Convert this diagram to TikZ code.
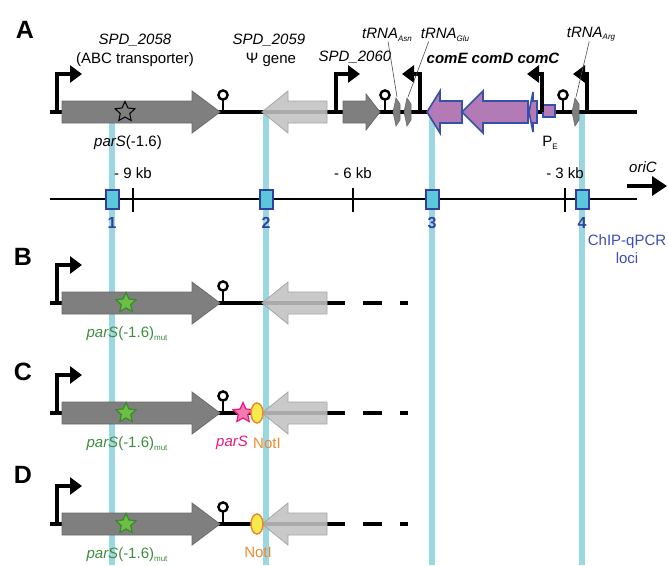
\documentclass[tikz,border=0pt]{standalone}
\usepackage{fontspec}
\setmainfont{Liberation Sans}
\usepackage{xcolor}
\usepackage{tikz}
\usetikzlibrary{arrows.meta,shapes.geometric}
\definecolor{locc}{HTML}{9BD7E1}
\definecolor{locf}{HTML}{5CC6DA}
\definecolor{locd}{HTML}{2E40A0}
\definecolor{chipc}{HTML}{3D4DB5}
\definecolor{purpf}{HTML}{B37AB5}
\definecolor{purpd}{HTML}{3450A8}
\definecolor{grayf}{HTML}{7F7F7F}
\definecolor{grayd}{HTML}{6B6B6B}
\definecolor{lgrayf}{HTML}{C2C2C2}
\definecolor{lgrayd}{HTML}{A5A5A5}
\definecolor{mutc}{HTML}{3E8E3E}
\definecolor{gstarf}{HTML}{6BBF45}
\definecolor{gstard}{HTML}{3A8A2A}
\definecolor{pinkc}{HTML}{E8197A}
\definecolor{pstarf}{HTML}{F27BB3}
\definecolor{notc}{HTML}{F0892A}
\definecolor{notf}{HTML}{F6EA4F}
\tikzset{
  bb/.style={line width=4.5pt,black},
  locl/.style={line width=6pt,locc},
  axl/.style={line width=1.8pt,black},
  prm/.style={line width=3.5pt,black,-{Triangle[length=12pt,width=17pt]}},
  trm/.style={line width=2.4pt,black},
  grayg/.style={fill=grayf,draw=grayd,line width=0.8pt},
  pseudog/.style={fill=lgrayf,fill opacity=0.88,draw=lgrayd,line width=0.8pt},
  comg/.style={fill=purpf,draw=purpd,line width=1.6pt},
  trn/.style={fill=grayf,draw=grayd,line width=0.6pt},
  lbl/.style={font=\fontsize{15}{18}\selectfont,inner sep=0pt},
  panel/.style={font=\fontsize{25}{25}\selectfont\bfseries,inner sep=0pt},
  locbox/.style={draw=locd,fill=locf,line width=2pt,minimum width=13pt,minimum height=19pt,inner sep=0pt},
  locnum/.style={font=\fontsize{16}{16}\selectfont\bfseries,text=locd,inner sep=0pt},
  leader/.style={line width=0.6pt,black!70},
  startype/.style={star,star points=5,star point ratio=2.1,minimum size=21pt,inner sep=0pt},
  ostar/.style={startype,draw=black,line width=1pt},
  gstar/.style={startype,fill=gstarf,draw=gstard,line width=1.2pt},
  pstar/.style={startype,fill=pstarf,draw=pinkc,line width=1.2pt},
  notel/.style={ellipse,minimum width=12pt,minimum height=20pt,inner sep=0pt,fill=notf,draw=notc,line width=1.5pt}
}
\newcommand{\gene}[6]{\draw[#1] (#2,#5-11) -- (#3,#5-11) -- (#3,#5-#6) -- (#4,#5) -- (#3,#5+#6) -- (#3,#5+11) -- (#2,#5+11) -- cycle;}
\newcommand{\prom}[3]{\draw[prm] (#1,#2) -- (#1,#2-38) -- ++(#3,0);}
\newcommand{\term}[2]{\draw[trm] (#1,#2) -- (#1,#2-12); \draw[trm,fill=white] (#1,#2-17) circle (4.6pt);}
\newcommand{\trna}[3]{\draw[trn] (#1-4,#2) -- (#1-1,#2-14) -- (#1+3,#2-8) -- (#1+3,#2+8) -- (#1-1,#2+14) -- cycle; \coordinate (#3) at (#1,#2-15);}
\newcommand{\sbs}[1]{\raisebox{-2.5pt}{\fontsize{8}{8}\selectfont #1}}
\begin{document}
\begin{tikzpicture}[x=1pt,y=-1pt]
\useasboundingbox (0,0) rectangle (668,565);
\foreach \x in {112,266,432,582} \draw[locl] (\x,112) -- (\x,565);
\draw[bb] (50,112) -- (637,112);
\gene{grayg}{62}{192}{220}{112}{21}
\gene{pseudog}{327}{288}{262}{112}{21}
\gene{grayg}{343}{366}{380}{112}{18}
\gene{comg}{462}{440}{427}{112}{21}
\gene{comg}{528}{483}{462}{112}{21}
\gene{comg}{537}{533}{529}{112}{20}
\draw[comg] (543,105) rectangle (555,117);
\trna{397}{112}{casn}
\trna{408}{112}{cglu}
\trna{576}{112}{carg}
\term{223}{112}
\term{385}{112}
\term{563}{112}
\prom{57}{112}{25}
\prom{336}{112}{24}
\prom{420}{112}{-18}
\prom{542}{112}{-15}
\prom{587}{112}{-14}
\node[ostar] (sa) at (125,112) {};
\node[panel] (pA) at (25,30) {A};
\node[lbl] (n2058) at (135,40) {\textit{SPD\_2058}};
\node[lbl] (d2058) at (135,60) {(ABC transporter)};
\node[lbl] (n2059) at (269,40) {\textit{SPD\_2059}};
\node[lbl] (d2059) at (271,60) {Ψ gene};
\node[lbl] (n2060) at (355,57) {\textit{SPD\_2060}};
\node[lbl] (lasn) at (387,35) {\textit{tRNA}\sbs{\textit{Asn}}};
\node[lbl] (lglu) at (445,35) {\textit{tRNA}\sbs{\textit{Glu}}};
\node[lbl] (larg) at (591,34) {\textit{tRNA}\sbs{\textit{Arg}}};
\node[lbl,font=\fontsize{15}{18}\selectfont\bfseries\itshape] (ncom) at (493,58) {comE comD comC};
\draw[leader] (lasn) -- (casn);
\draw[leader] ([xshift=8pt]lglu.south west) -- (cglu);
\draw[leader] (larg) -- (carg);
\node[lbl] (lpa) at (128,143) {\textit{parS}(-1.6)};
\node[lbl] (lpe) at (550,143) {P\sbs{E}};
\draw[axl] (50,199) -- (637,199);
\foreach \x/\t in {133/9,353/6,565/3} {
  \draw[axl] (\x,188) -- (\x,212);
  \node[lbl] (kb\t) at (\x,173) {- \t\ kb};
}
\foreach \x/\n in {112/1,266/2,432/3,582/4} {
  \node[locbox] (loc\n) at (\x,199) {};
  \node[locnum] (num\n) at (\x,223) {\n};
}
\node[lbl] (ori) at (643,167) {\textit{oriC}};
\coordinate (oria) at (627,186);
\coordinate (orib) at (667,186);
\draw[line width=3.5pt,-{Triangle[length=15pt,width=19pt]}] (oria) -- (orib);
\node[lbl,text=chipc,align=center] (chip) at (627,249) {ChIP-qPCR\\loci};
\foreach \y/\p/\l in {303/B/257,413/C/372,524/D/475} {
  \draw[bb] (50,\y) -- (345,\y);
  \draw[bb,dash pattern=on 19pt off 18pt on 8pt off 50pt] (363,\y) -- (408,\y);
  \gene{grayg}{62}{192}{220}{\y}{21}
  \gene{pseudog}{327}{288}{262}{\y}{21}
  \term{223}{\y}
  \prom{57}{\y}{25}
  \node[gstar] (st\p) at (126,\y) {};
  \node[lbl,text=mutc] (mut\p) at (127,\y+31) {\textit{parS}(-1.6)\sbs{mut}};
  \node[panel] (p\p) at (23,\l) {\p};
}
\node[pstar] (pkC) at (243,413) {};
\node[notel] (ntC) at (257,413) {};
\node[lbl,text=pinkc] (lpkC) at (232,443) {\textit{parS}};
\node[lbl,text=notc] (lntC) at (267,443) {NotI};
\node[notel] (ntD) at (257,524) {};
\node[lbl,text=notc] (lntD) at (258,552) {NotI};
\end{tikzpicture}
\end{document}
